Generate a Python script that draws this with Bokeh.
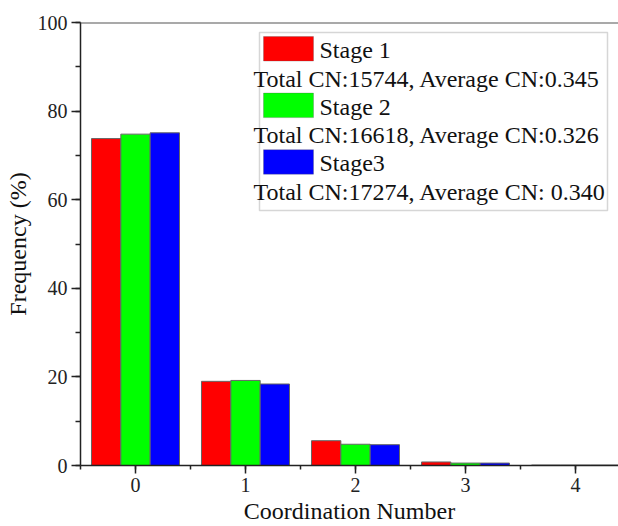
from bokeh.plotting import figure
from bokeh.models import Range1d, SingleIntervalTicker, Label, BoxAnnotation, Span
from bokeh.embed import file_html
from bokeh.resources import INLINE

# Coordination number distribution for the three stages (percent of particles)
coordination = [0, 1, 2, 3, 4]
stage1 = [73.8, 19.0, 5.6, 0.8, 0.1]
stage2 = [74.8, 19.2, 4.8, 0.55, 0.1]
stage3 = [75.1, 18.4, 4.7, 0.55, 0.1]
stage_names = ["Stage 1", "Stage 2", "Stage3"]
stage_notes = [
    "Total CN:15744, Average CN:0.345",
    "Total CN:16618, Average CN:0.326",
    "Total CN:17274, Average CN: 0.340",
]
colors = ["#ff0000", "#00ff00", "#0000ff"]

FONT = "'Liberation Serif', 'Times New Roman', 'DejaVu Serif', serif"
X_START, X_END = -0.5, 4.391
Y_START, Y_END = 0, 100

# frame placement inside the 618x526 canvas
FL, FT, FR, FB = 80, 22, 618, 465

p = figure(
    width=618, height=526,
    x_range=Range1d(X_START, X_END), y_range=Range1d(Y_START, Y_END),
    output_backend="svg", toolbar_location=None,
    min_border_left=FL, min_border_right=0,
    min_border_top=FT, min_border_bottom=526 - FB,
)
p.outline_line_color = None
p.xgrid.visible = False
p.ygrid.visible = False
p.background_fill_color = "white"
p.border_fill_color = "white"

bar_w = 0.8 / 3
for i, (vals, col) in enumerate(zip([stage1, stage2, stage3], colors)):
    offset = (i - 1) * bar_w
    p.vbar(x=[c + offset for c in coordination], top=vals, width=bar_w,
           fill_color=col, line_color="#666666", line_width=1)

# axes
p.xaxis.ticker = SingleIntervalTicker(interval=1, num_minor_ticks=2)
p.yaxis.ticker = SingleIntervalTicker(interval=20, num_minor_ticks=2)
for ax in (p.xaxis, p.yaxis):
    ax.axis_line_color = "#222222"
    ax.axis_line_width = 1.5
    ax.major_tick_line_color = "#222222"
    ax.minor_tick_line_color = "#222222"
    ax.major_tick_line_width = 1.5
    ax.minor_tick_line_width = 1.5
    ax.major_tick_in = 0
    ax.minor_tick_in = 0
    ax.major_label_text_font = FONT
    ax.major_label_text_font_size = "20px"
    ax.major_label_text_color = "#222222"
    ax.axis_label_text_font = FONT
    ax.axis_label_text_font_size = "24px"
    ax.axis_label_text_font_style = "normal"
    ax.axis_label_text_color = "#111111"

p.xaxis.major_tick_out = 8
p.xaxis.minor_tick_out = 4
p.yaxis.major_tick_out = 9
p.yaxis.minor_tick_out = 5
p.xaxis.major_label_standoff = 4
p.yaxis.major_label_standoff = 4
p.xaxis.axis_label = "Coordination Number"
p.yaxis.axis_label = "Frequency (%)"
p.xaxis.axis_label_standoff = 3
p.yaxis.axis_label_standoff = 4

# top border of the frame
p.add_layout(Span(location=Y_END, dimension="width", line_color="#555555", line_width=2))


# legend drawn in pixel positions converted to data space
def dx(px):
    return X_START + (px - FL) * (X_END - X_START) / (FR - FL)


def dy(py):
    return Y_START + (FB - py) * (Y_END - Y_START) / (FB - FT)


p.add_layout(BoxAnnotation(left=dx(259), right=dx(607), top=dy(32), bottom=dy(210),
                           fill_color="white", fill_alpha=1.0,
                           line_color="#777777", line_width=1.5))
row = 56.6
for i, (name, note, col) in enumerate(zip(stage_names, stage_notes, colors)):
    top = 36 + row * i
    p.add_layout(BoxAnnotation(left=dx(263), right=dx(313), top=dy(top), bottom=dy(top + 24.5),
                               fill_color=col, fill_alpha=1.0,
                               line_color="#555555", line_width=1))
    p.add_layout(Label(x=dx(319), y=dy(49.5 + row * i), text=name,
                       text_font=FONT, text_font_size="24px", text_color="#111111",
                       text_align="left", text_baseline="middle"))
    p.add_layout(Label(x=dx(253), y=dy(78 + row * i), text=note,
                       text_font=FONT, text_font_size="24px", text_color="#111111",
                       text_align="left", text_baseline="middle"))

open("out.html", "w").write(file_html(p, INLINE))
